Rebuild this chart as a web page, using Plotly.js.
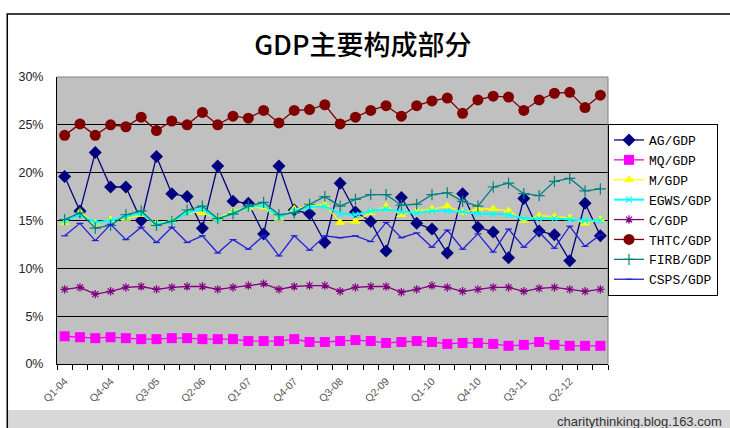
<!DOCTYPE html>
<html><head><meta charset="utf-8">
<script src="https://cdn.plot.ly/plotly-3.0.1.min.js"></script>
<style>html,body{margin:0;padding:0;background:#fff;overflow:hidden}#chart{width:730px;height:428px}</style>
</head><body><div id="chart"></div>
<script>
const quarters = ["Q1-04","Q2-04","Q3-04","Q4-04","Q1-05","Q2-05","Q3-05","Q4-05","Q1-06","Q2-06","Q3-06","Q4-06",
  "Q1-07","Q2-07","Q3-07","Q4-07","Q1-08","Q2-08","Q3-08","Q4-08","Q1-09","Q2-09","Q3-09","Q4-09",
  "Q1-10","Q2-10","Q3-10","Q4-10","Q1-11","Q2-11","Q3-11","Q4-11","Q1-12","Q2-12","Q3-12","Q4-12"];
const tickLabels = ["Q1-04","Q4-04","Q3-05","Q2-06","Q1-07","Q4-07","Q3-08","Q2-09","Q1-10","Q4-10","Q3-11","Q2-12"];
const seriesNames = ["AG/GDP","MQ/GDP","M/GDP","EGWS/GDP","C/GDP","THTC/GDP","FIRB/GDP","CSPS/GDP"];
const AG   = [19.6,16.0,22.1,18.5,18.5,15.0,21.7,17.8,17.5,14.2,20.7,17.0,16.8,13.6,20.7,16.1,15.7,12.7,18.9,15.9,14.9,11.8,17.4,14.7,14.1,11.6,17.8,14.3,13.8,11.1,17.3,13.9,13.5,10.8,16.8,13.4];
const MQ   = [2.9,2.8,2.7,2.8,2.7,2.6,2.6,2.7,2.7,2.6,2.6,2.6,2.4,2.4,2.4,2.6,2.3,2.3,2.4,2.5,2.4,2.2,2.3,2.4,2.3,2.1,2.2,2.2,2.1,1.9,2.0,2.3,2.0,1.9,1.9,1.9];
const M    = [14.8,15.9,14.7,15.1,15.2,15.6,14.7,15.0,15.9,15.8,15.2,16.0,16.3,16.4,15.2,16.2,16.5,16.7,14.8,14.9,15.8,16.5,15.6,16.0,16.2,16.5,15.8,16.2,16.2,16.0,15.0,15.5,15.4,15.3,14.7,15.1];
const EGWS = [15.0,15.6,14.8,15.0,15.4,15.8,14.6,14.9,15.8,16.2,15.1,15.8,16.4,16.6,15.3,16.0,16.4,16.5,15.7,15.6,16.0,16.2,15.9,15.8,16.0,16.0,15.9,15.7,15.7,15.6,15.2,15.2,15.2,15.1,15.0,15.0];
const C    = [7.8,8.0,7.3,7.6,8.0,8.1,7.8,8.0,8.1,8.1,7.8,8.0,8.2,8.4,7.8,8.1,8.2,8.2,7.6,8.0,8.1,8.1,7.5,7.8,8.2,8.0,7.6,7.8,8.0,8.0,7.6,7.9,8.0,7.8,7.6,7.8];
const THTC = [23.9,25.1,23.9,25.0,24.8,25.8,24.4,25.4,25.0,26.3,25.0,25.9,25.7,26.5,25.2,26.5,26.6,27.1,25.1,25.8,26.5,27.0,25.9,27.0,27.5,27.8,26.2,27.6,28.0,27.9,26.5,27.6,28.3,28.4,26.8,28.1];
const FIRB = [15.1,15.8,14.2,14.5,15.6,16.0,14.5,14.9,16.1,16.5,15.2,15.7,16.5,16.9,15.6,15.8,16.7,17.5,16.5,17.2,17.7,17.7,16.6,16.7,17.7,17.9,17.0,16.5,18.5,18.9,17.8,17.6,19.1,19.4,18.1,18.3];
const CSPS = [13.4,14.7,12.9,14.6,13.0,14.3,12.7,14.3,12.7,13.4,11.6,13.0,12.0,13.4,11.3,13.4,11.9,13.4,13.2,13.4,12.8,14.8,13.2,13.7,12.2,14.0,12.0,13.6,11.7,14.1,12.2,13.8,12.1,14.4,12.3,13.5];

const xIdx = quarters.map((q, i) => i);
const tickIdx = tickLabels.map(t => quarters.indexOf(t));
const valuesList = [AG, MQ, M, EGWS, C, THTC, FIRB, CSPS];
const styles = [
  {color:'#000080', symbol:'diamond', size:10},
  {color:'#FF00FF', symbol:'square', size:10},
  {color:'#FFFF00', symbol:'triangle-up', size:9},
  {color:'#00FFFF', symbol:'x-thin-open', size:6, lw:1.2},
  {color:'#800080', symbol:'asterisk-open', size:7, lw:1.2},
  {color:'#800000', symbol:'circle', size:11},
  {color:'#008080', symbol:'cross-thin-open', size:8, lw:1.2},
  {color:'#2020D8', symbol:'line-ew-open', size:5, lw:1.2}
];
const traces = valuesList.map((vals, k) => {
  const s = styles[k];
  const mk = {symbol:s.symbol, size:s.size, color:s.color};
  if (s.lw) mk.line = {color:s.color, width:s.lw};
  return {
    x: xIdx, y: vals, name: seriesNames[k], type:'scatter', mode:'lines+markers',
    line:{color:s.color, width: k===3 ? 2 : 1.3}, marker: mk,
    text: quarters, hovertemplate:'%{text}: %{y}%<extra>%{fullData.name}</extra>'
  };
});

const X = px => (px - 57) / 554;
const Y = py => (364 - py) / 287;

const layout = {
  width:730, height:428,
  margin:{l:57, r:119, t:77, b:64},
  paper_bgcolor:'#ffffff', plot_bgcolor:'#C0C0C0',
  font:{family:'Liberation Sans, Arial, sans-serif', color:'#222'},
  title:{text:'GDP主要构成部分', x:0.497, xanchor:'center', y:1-46/428, yanchor:'middle',
    font:{family:'Noto Sans CJK SC, sans-serif', size:27, color:'#000', weight:500}},
  xaxis:{range:[-0.5, 35.5], tickmode:'array', tickvals:tickIdx, ticktext:tickLabels, tickangle:-45,
    tickfont:{size:10.5, color:'#555'}, ticks:'', showgrid:false, zeroline:false, ticklabelstandoff:6,
    showline:true, linecolor:'#000', linewidth:1,
    minor:{tick0:-0.5, dtick:1, ticks:'outside', ticklen:5, tickcolor:'#000', tickwidth:1, showgrid:false}},
  yaxis:{range:[0,30], dtick:5, ticksuffix:'%', tickfont:{size:12.5, color:'#222'},
    showgrid:true, gridcolor:'#000', gridwidth:1, zeroline:false,
    showline:true, linecolor:'#000', linewidth:1, ticks:'', ticklabelstandoff:10},
  legend:{x:1.0, xanchor:'left', y:Y(124), yanchor:'top', bgcolor:'#fff', bordercolor:'#000', borderwidth:1,
    font:{family:'Liberation Mono, monospace', size:13, color:'#000'}, tracegroupgap:0, itemwidth:30},
  showlegend:true,
  shapes:[
    {type:'rect', xref:'paper', yref:'paper', x0:X(7), x1:X(740), y0:Y(410), y1:Y(432), fillcolor:'#D8D8D8', line:{width:0}, layer:'below'},
    {type:'rect', xref:'paper', yref:'paper', x0:X(7), x1:X(745), y0:Y(440), y1:Y(14), fillcolor:'rgba(0,0,0,0)', line:{color:'#000', width:1.5}},
    {type:'line', xref:'paper', yref:'paper', x0:0, x1:1, y0:1, y1:1, line:{color:'#808080', width:1}},
    {type:'line', xref:'paper', yref:'paper', x0:1, x1:1, y0:0, y1:1, line:{color:'#808080', width:1}}
  ],
  annotations:[
    {text:'charitythinking.blog.163.com', xref:'paper', yref:'paper', x:X(728), y:Y(421), xanchor:'right', yanchor:'middle',
     showarrow:false, font:{family:'Liberation Sans, Arial, sans-serif', size:13, color:'#333'}}
  ]
};
Plotly.newPlot('chart', traces, layout, {displayModeBar:false, staticPlot:true});
</script>
</body></html>
